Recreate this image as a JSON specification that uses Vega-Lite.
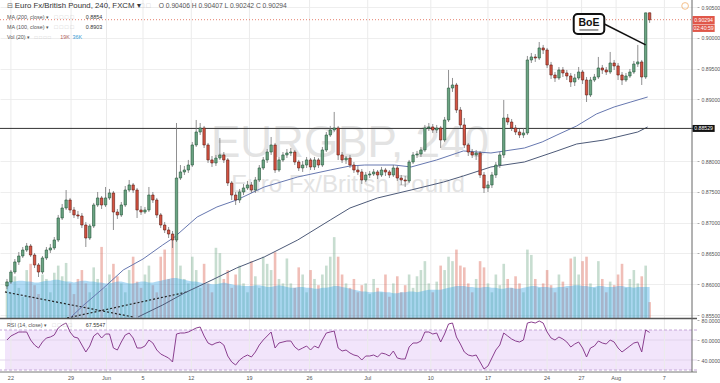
{
"$schema":"https://vega.github.io/schema/vega-lite/v6.json",
"width":697,"height":372,
"autosize":{"type":"none"},
"padding":{"left":0,"top":0,"right":23,"bottom":11},
"background":"#ffffff",
"config":{"view":{"stroke":null},"font":"Liberation Sans"},
"data":{"values":[{"one":1}]},
"datasets":{
"c":[
{"i":0,"o":0.85971,"h":0.86085,"l":0.85922,"c":0.86036,"v":42,"m":41,"r":60},
{"i":1,"o":0.86036,"h":0.86231,"l":0.86004,"c":0.86198,"v":30,"m":42,"r":64},
{"i":2,"o":0.86198,"h":0.86409,"l":0.86166,"c":0.86361,"v":48,"m":42,"r":66},
{"i":3,"o":0.86361,"h":0.86523,"l":0.86312,"c":0.86458,"v":35,"m":43,"r":68},
{"i":4,"o":0.86458,"h":0.86604,"l":0.86426,"c":0.86555,"v":25,"m":43,"r":68},
{"i":5,"o":0.86555,"h":0.86669,"l":0.86523,"c":0.8662,"v":55,"m":42,"r":68},
{"i":6,"o":0.8662,"h":0.86653,"l":0.86442,"c":0.86474,"v":62,"m":42,"r":60},
{"i":7,"o":0.86474,"h":0.86507,"l":0.86263,"c":0.86312,"v":38,"m":41,"r":55},
{"i":8,"o":0.86312,"h":0.86344,"l":0.86117,"c":0.86198,"v":28,"m":41,"r":52},
{"i":9,"o":0.86198,"h":0.86458,"l":0.86166,"c":0.86426,"v":50,"m":42,"r":58},
{"i":10,"o":0.86426,"h":0.86604,"l":0.86393,"c":0.86555,"v":45,"m":43,"r":62},
{"i":11,"o":0.86555,"h":0.86653,"l":0.86507,"c":0.86588,"v":30,"m":43,"r":63},
{"i":12,"o":0.86588,"h":0.86766,"l":0.86555,"c":0.86718,"v":52,"m":44,"r":65},
{"i":13,"o":0.86718,"h":0.87124,"l":0.86685,"c":0.87075,"v":60,"m":44,"r":72},
{"i":14,"o":0.87075,"h":0.87302,"l":0.87042,"c":0.87237,"v":48,"m":43,"r":75},
{"i":15,"o":0.87237,"h":0.87529,"l":0.87205,"c":0.87367,"v":63,"m":42,"r":77},
{"i":16,"o":0.87367,"h":0.874,"l":0.87156,"c":0.87205,"v":40,"m":42,"r":68},
{"i":17,"o":0.87205,"h":0.87254,"l":0.87075,"c":0.87124,"v":28,"m":41,"r":63},
{"i":18,"o":0.87124,"h":0.87189,"l":0.87059,"c":0.87107,"v":45,"m":42,"r":62},
{"i":19,"o":0.87107,"h":0.87156,"l":0.86912,"c":0.86961,"v":55,"m":43,"r":55},
{"i":20,"o":0.86961,"h":0.8701,"l":0.86604,"c":0.8675,"v":40,"m":43,"r":48},
{"i":21,"o":0.8675,"h":0.86977,"l":0.86718,"c":0.86945,"v":30,"m":42,"r":54},
{"i":22,"o":0.86945,"h":0.87319,"l":0.86912,"c":0.87286,"v":58,"m":42,"r":64},
{"i":23,"o":0.87286,"h":0.87497,"l":0.87254,"c":0.874,"v":45,"m":41,"r":67},
{"i":24,"o":0.874,"h":0.87432,"l":0.87221,"c":0.87286,"v":81,"m":41,"r":62},
{"i":25,"o":0.87286,"h":0.87578,"l":0.87254,"c":0.874,"v":35,"m":40,"r":66},
{"i":26,"o":0.874,"h":0.87546,"l":0.87367,"c":0.87481,"v":50,"m":40,"r":66},
{"i":27,"o":0.87481,"h":0.87513,"l":0.8688,"c":0.87172,"v":62,"m":41,"r":52},
{"i":28,"o":0.87172,"h":0.87221,"l":0.87059,"c":0.87124,"v":48,"m":42,"r":50},
{"i":29,"o":0.87124,"h":0.87335,"l":0.87091,"c":0.87286,"v":40,"m":42,"r":58},
{"i":30,"o":0.87286,"h":0.87594,"l":0.87254,"c":0.87529,"v":30,"m":41,"r":65},
{"i":31,"o":0.87529,"h":0.87692,"l":0.87497,"c":0.87611,"v":55,"m":40,"r":67},
{"i":32,"o":0.87611,"h":0.87643,"l":0.87481,"c":0.87529,"v":70,"m":40,"r":62},
{"i":33,"o":0.87529,"h":0.87562,"l":0.87075,"c":0.87205,"v":42,"m":41,"r":52},
{"i":34,"o":0.87205,"h":0.8727,"l":0.87124,"c":0.87172,"v":35,"m":42,"r":52},
{"i":35,"o":0.87172,"h":0.87254,"l":0.8714,"c":0.87205,"v":50,"m":42,"r":54},
{"i":36,"o":0.87205,"h":0.87578,"l":0.87172,"c":0.87448,"v":60,"m":41,"r":60},
{"i":37,"o":0.87448,"h":0.87497,"l":0.87319,"c":0.87367,"v":38,"m":41,"r":57},
{"i":38,"o":0.87367,"h":0.874,"l":0.87075,"c":0.87124,"v":30,"m":42,"r":50},
{"i":39,"o":0.87124,"h":0.87156,"l":0.86912,"c":0.86961,"v":70,"m":43,"r":46},
{"i":40,"o":0.86961,"h":0.8701,"l":0.86831,"c":0.8688,"v":78,"m":44,"r":44},
{"i":41,"o":0.8688,"h":0.86929,"l":0.8675,"c":0.86815,"v":45,"m":45,"r":42},
{"i":42,"o":0.86815,"h":0.86864,"l":0.86588,"c":0.86718,"v":89,"m":46,"r":38},
{"i":43,"o":0.86718,"h":0.88617,"l":0.86685,"c":0.87724,"v":92,"m":46,"r":66},
{"i":44,"o":0.87724,"h":0.87935,"l":0.87692,"c":0.87822,"v":60,"m":45,"r":67},
{"i":45,"o":0.87822,"h":0.87919,"l":0.87773,"c":0.87854,"v":45,"m":44,"r":67},
{"i":46,"o":0.87854,"h":0.88017,"l":0.87806,"c":0.87935,"v":40,"m":43,"r":68},
{"i":47,"o":0.87935,"h":0.88309,"l":0.87903,"c":0.8826,"v":70,"m":42,"r":70},
{"i":48,"o":0.8826,"h":0.88666,"l":0.88228,"c":0.88471,"v":55,"m":42,"r":72},
{"i":49,"o":0.88471,"h":0.88617,"l":0.88422,"c":0.88536,"v":35,"m":41,"r":73},
{"i":50,"o":0.88536,"h":0.88569,"l":0.88211,"c":0.8826,"v":62,"m":40,"r":64},
{"i":51,"o":0.8826,"h":0.88293,"l":0.87968,"c":0.88017,"v":40,"m":40,"r":57},
{"i":52,"o":0.88017,"h":0.88081,"l":0.87903,"c":0.87968,"v":30,"m":39,"r":55},
{"i":53,"o":0.87968,"h":0.88098,"l":0.87919,"c":0.88049,"v":80,"m":39,"r":57},
{"i":54,"o":0.88049,"h":0.88374,"l":0.88017,"c":0.88098,"v":74,"m":40,"r":58},
{"i":55,"o":0.88098,"h":0.88146,"l":0.87968,"c":0.88017,"v":45,"m":41,"r":55},
{"i":56,"o":0.88017,"h":0.88049,"l":0.87594,"c":0.87643,"v":55,"m":40,"r":44},
{"i":57,"o":0.87643,"h":0.87676,"l":0.87367,"c":0.87448,"v":35,"m":39,"r":38},
{"i":58,"o":0.87448,"h":0.87497,"l":0.87286,"c":0.87367,"v":50,"m":38,"r":35},
{"i":59,"o":0.87367,"h":0.87546,"l":0.87319,"c":0.87497,"v":60,"m":38,"r":40},
{"i":60,"o":0.87497,"h":0.87627,"l":0.87448,"c":0.87562,"v":40,"m":37,"r":43},
{"i":61,"o":0.87562,"h":0.87676,"l":0.87529,"c":0.87611,"v":30,"m":37,"r":45},
{"i":62,"o":0.87611,"h":0.87659,"l":0.87481,"c":0.87529,"v":65,"m":37,"r":43},
{"i":63,"o":0.87529,"h":0.87741,"l":0.87481,"c":0.87692,"v":48,"m":38,"r":48},
{"i":64,"o":0.87692,"h":0.87935,"l":0.87659,"c":0.87887,"v":35,"m":38,"r":55},
{"i":65,"o":0.87887,"h":0.88065,"l":0.87854,"c":0.88017,"v":70,"m":37,"r":60},
{"i":66,"o":0.88017,"h":0.88195,"l":0.87968,"c":0.88146,"v":62,"m":36,"r":64},
{"i":67,"o":0.88146,"h":0.8839,"l":0.88098,"c":0.8826,"v":55,"m":36,"r":68},
{"i":68,"o":0.8826,"h":0.88293,"l":0.87806,"c":0.87854,"v":75,"m":37,"r":52},
{"i":69,"o":0.87854,"h":0.88065,"l":0.87822,"c":0.88017,"v":45,"m":38,"r":57},
{"i":70,"o":0.88017,"h":0.88146,"l":0.87984,"c":0.88098,"v":40,"m":37,"r":58},
{"i":71,"o":0.88098,"h":0.88195,"l":0.88049,"c":0.8813,"v":68,"m":36,"r":59},
{"i":72,"o":0.8813,"h":0.88211,"l":0.88081,"c":0.88146,"v":40,"m":35,"r":59},
{"i":73,"o":0.88146,"h":0.88179,"l":0.87935,"c":0.87984,"v":35,"m":35,"r":53},
{"i":74,"o":0.87984,"h":0.88017,"l":0.87838,"c":0.87887,"v":58,"m":36,"r":50},
{"i":75,"o":0.87887,"h":0.88,"l":0.87822,"c":0.87935,"v":50,"m":36,"r":52},
{"i":76,"o":0.87935,"h":0.88065,"l":0.87887,"c":0.88017,"v":30,"m":35,"r":54},
{"i":77,"o":0.88017,"h":0.88049,"l":0.87854,"c":0.87903,"v":55,"m":35,"r":50},
{"i":78,"o":0.87903,"h":0.88065,"l":0.87854,"c":0.88017,"v":45,"m":34,"r":54},
{"i":79,"o":0.88017,"h":0.88049,"l":0.87887,"c":0.87935,"v":38,"m":34,"r":52},
{"i":80,"o":0.87935,"h":0.88228,"l":0.87903,"c":0.88179,"v":50,"m":35,"r":60},
{"i":81,"o":0.88179,"h":0.88471,"l":0.88146,"c":0.88422,"v":60,"m":35,"r":67},
{"i":82,"o":0.88422,"h":0.88569,"l":0.8839,"c":0.88504,"v":70,"m":36,"r":68},
{"i":83,"o":0.88504,"h":0.88796,"l":0.88471,"c":0.88536,"v":92,"m":37,"r":69},
{"i":84,"o":0.88536,"h":0.88569,"l":0.88017,"c":0.88098,"v":70,"m":37,"r":52},
{"i":85,"o":0.88098,"h":0.88146,"l":0.87968,"c":0.88017,"v":50,"m":36,"r":49},
{"i":86,"o":0.88017,"h":0.88081,"l":0.87952,"c":0.88049,"v":40,"m":35,"r":50},
{"i":87,"o":0.88049,"h":0.88098,"l":0.87887,"c":0.87935,"v":35,"m":34,"r":47},
{"i":88,"o":0.87935,"h":0.87984,"l":0.87806,"c":0.87854,"v":45,"m":33,"r":45},
{"i":89,"o":0.87854,"h":0.87919,"l":0.87773,"c":0.87822,"v":30,"m":32,"r":44},
{"i":90,"o":0.87822,"h":0.8787,"l":0.87627,"c":0.87692,"v":38,"m":31,"r":40},
{"i":91,"o":0.87692,"h":0.87822,"l":0.87659,"c":0.87773,"v":40,"m":31,"r":44},
{"i":92,"o":0.87773,"h":0.87838,"l":0.87724,"c":0.87789,"v":28,"m":30,"r":44},
{"i":93,"o":0.87789,"h":0.8787,"l":0.87757,"c":0.87822,"v":45,"m":30,"r":45},
{"i":94,"o":0.87822,"h":0.87854,"l":0.87708,"c":0.87773,"v":35,"m":31,"r":43},
{"i":95,"o":0.87773,"h":0.87903,"l":0.87741,"c":0.87854,"v":30,"m":31,"r":47},
{"i":96,"o":0.87854,"h":0.87887,"l":0.87757,"c":0.87822,"v":50,"m":30,"r":46},
{"i":97,"o":0.87822,"h":0.87854,"l":0.87724,"c":0.87773,"v":25,"m":30,"r":44},
{"i":98,"o":0.87773,"h":0.87935,"l":0.87741,"c":0.87887,"v":40,"m":29,"r":49},
{"i":99,"o":0.87887,"h":0.87919,"l":0.87676,"c":0.87724,"v":48,"m":29,"r":42},
{"i":100,"o":0.87724,"h":0.87773,"l":0.87611,"c":0.87692,"v":30,"m":30,"r":41},
{"i":101,"o":0.87692,"h":0.87757,"l":0.87578,"c":0.87676,"v":38,"m":30,"r":41},
{"i":102,"o":0.87676,"h":0.88017,"l":0.87643,"c":0.87984,"v":50,"m":31,"r":53},
{"i":103,"o":0.87984,"h":0.88146,"l":0.87952,"c":0.88098,"v":35,"m":31,"r":57},
{"i":104,"o":0.88098,"h":0.88163,"l":0.88049,"c":0.88114,"v":48,"m":30,"r":57},
{"i":105,"o":0.88114,"h":0.88228,"l":0.88065,"c":0.88179,"v":55,"m":31,"r":59},
{"i":106,"o":0.88179,"h":0.88585,"l":0.88146,"c":0.88536,"v":65,"m":32,"r":68},
{"i":107,"o":0.88536,"h":0.88617,"l":0.88487,"c":0.88552,"v":40,"m":33,"r":68},
{"i":108,"o":0.88552,"h":0.88601,"l":0.88455,"c":0.88504,"v":30,"m":33,"r":66},
{"i":109,"o":0.88504,"h":0.88585,"l":0.88455,"c":0.88536,"v":42,"m":33,"r":67},
{"i":110,"o":0.88536,"h":0.88569,"l":0.88211,"c":0.88341,"v":60,"m":33,"r":58},
{"i":111,"o":0.88341,"h":0.88715,"l":0.88309,"c":0.88666,"v":55,"m":34,"r":66},
{"i":112,"o":0.88666,"h":0.89478,"l":0.88633,"c":0.89185,"v":70,"m":35,"r":76},
{"i":113,"o":0.89185,"h":0.89348,"l":0.89121,"c":0.89234,"v":65,"m":36,"r":77},
{"i":114,"o":0.89234,"h":0.89267,"l":0.8878,"c":0.88828,"v":78,"m":37,"r":63},
{"i":115,"o":0.88828,"h":0.88877,"l":0.88536,"c":0.88585,"v":60,"m":37,"r":56},
{"i":116,"o":0.88585,"h":0.88698,"l":0.88211,"c":0.8826,"v":58,"m":37,"r":48},
{"i":117,"o":0.8826,"h":0.88293,"l":0.88081,"c":0.88146,"v":40,"m":36,"r":45},
{"i":118,"o":0.88146,"h":0.88195,"l":0.88049,"c":0.88098,"v":30,"m":36,"r":44},
{"i":119,"o":0.88098,"h":0.88179,"l":0.88017,"c":0.8813,"v":45,"m":35,"r":45},
{"i":120,"o":0.8813,"h":0.88163,"l":0.87724,"c":0.87773,"v":65,"m":35,"r":38},
{"i":121,"o":0.87773,"h":0.87822,"l":0.87481,"c":0.87562,"v":58,"m":36,"r":31},
{"i":122,"o":0.87562,"h":0.87676,"l":0.87497,"c":0.87611,"v":40,"m":36,"r":34},
{"i":123,"o":0.87611,"h":0.87822,"l":0.87562,"c":0.87773,"v":30,"m":35,"r":42},
{"i":124,"o":0.87773,"h":0.87984,"l":0.87724,"c":0.87935,"v":50,"m":35,"r":50},
{"i":125,"o":0.87935,"h":0.88146,"l":0.87887,"c":0.88098,"v":38,"m":34,"r":55},
{"i":126,"o":0.88098,"h":0.88991,"l":0.88049,"c":0.88698,"v":62,"m":34,"r":67},
{"i":127,"o":0.88698,"h":0.88763,"l":0.88585,"c":0.88633,"v":45,"m":35,"r":64},
{"i":128,"o":0.88633,"h":0.88682,"l":0.88487,"c":0.88536,"v":35,"m":35,"r":61},
{"i":129,"o":0.88536,"h":0.88585,"l":0.88422,"c":0.88471,"v":48,"m":34,"r":59},
{"i":130,"o":0.88471,"h":0.8852,"l":0.88374,"c":0.88422,"v":40,"m":34,"r":58},
{"i":131,"o":0.88422,"h":0.88536,"l":0.88374,"c":0.88455,"v":30,"m":35,"r":60},
{"i":132,"o":0.88455,"h":0.89705,"l":0.88422,"c":0.8964,"v":78,"m":36,"r":77},
{"i":133,"o":0.8964,"h":0.89754,"l":0.89591,"c":0.89689,"v":72,"m":37,"r":78},
{"i":134,"o":0.89689,"h":0.89737,"l":0.89608,"c":0.89672,"v":45,"m":37,"r":77},
{"i":135,"o":0.89672,"h":0.89932,"l":0.8964,"c":0.89835,"v":35,"m":36,"r":79},
{"i":136,"o":0.89835,"h":0.89884,"l":0.89737,"c":0.89802,"v":40,"m":36,"r":77},
{"i":137,"o":0.89802,"h":0.89835,"l":0.8951,"c":0.89559,"v":55,"m":36,"r":68},
{"i":138,"o":0.89559,"h":0.89608,"l":0.89332,"c":0.89396,"v":38,"m":35,"r":62},
{"i":139,"o":0.89396,"h":0.89445,"l":0.89283,"c":0.89348,"v":30,"m":35,"r":60},
{"i":140,"o":0.89348,"h":0.89526,"l":0.89315,"c":0.89478,"v":50,"m":36,"r":63},
{"i":141,"o":0.89478,"h":0.89526,"l":0.89364,"c":0.89429,"v":42,"m":36,"r":61},
{"i":142,"o":0.89429,"h":0.89478,"l":0.89315,"c":0.8938,"v":35,"m":37,"r":58},
{"i":143,"o":0.8938,"h":0.89429,"l":0.89202,"c":0.89283,"v":68,"m":37,"r":53},
{"i":144,"o":0.89283,"h":0.89413,"l":0.89218,"c":0.89348,"v":70,"m":38,"r":56},
{"i":145,"o":0.89348,"h":0.89526,"l":0.89315,"c":0.89445,"v":50,"m":38,"r":58},
{"i":146,"o":0.89445,"h":0.89478,"l":0.8925,"c":0.89315,"v":65,"m":37,"r":52},
{"i":147,"o":0.89315,"h":0.89364,"l":0.88958,"c":0.89072,"v":70,"m":37,"r":43},
{"i":148,"o":0.89072,"h":0.89364,"l":0.89039,"c":0.89315,"v":40,"m":36,"r":52},
{"i":149,"o":0.89315,"h":0.89413,"l":0.89283,"c":0.89364,"v":35,"m":36,"r":54},
{"i":150,"o":0.89364,"h":0.89689,"l":0.89332,"c":0.8951,"v":65,"m":37,"r":59},
{"i":151,"o":0.8951,"h":0.89559,"l":0.89413,"c":0.89478,"v":45,"m":37,"r":57},
{"i":152,"o":0.89478,"h":0.89526,"l":0.89396,"c":0.89445,"v":30,"m":36,"r":56},
{"i":153,"o":0.89445,"h":0.8977,"l":0.89413,"c":0.89591,"v":42,"m":36,"r":60},
{"i":154,"o":0.89591,"h":0.8964,"l":0.89478,"c":0.89543,"v":38,"m":36,"r":58},
{"i":155,"o":0.89543,"h":0.89591,"l":0.89315,"c":0.89396,"v":50,"m":37,"r":52},
{"i":156,"o":0.89396,"h":0.89445,"l":0.89234,"c":0.89315,"v":62,"m":37,"r":48},
{"i":157,"o":0.89315,"h":0.89429,"l":0.89283,"c":0.8938,"v":35,"m":36,"r":51},
{"i":158,"o":0.8938,"h":0.89494,"l":0.89348,"c":0.89445,"v":45,"m":36,"r":54},
{"i":159,"o":0.89445,"h":0.89624,"l":0.89413,"c":0.89575,"v":55,"m":35,"r":57},
{"i":160,"o":0.89575,"h":0.89884,"l":0.89526,"c":0.89608,"v":40,"m":36,"r":58},
{"i":161,"o":0.89608,"h":0.8964,"l":0.89234,"c":0.89364,"v":48,"m":36,"r":48},
{"i":162,"o":0.89364,"h":0.90407,"l":0.89332,"c":0.90405,"v":60,"m":36,"r":70},
{"i":163,"o":0.90406,"h":0.90407,"l":0.90242,"c":0.90294,"v":19,"m":36,"r":67.5547}
],
"ma100":[
{"i":16.25,"p":0.85468},{"i":19.5,"p":0.85663},{"i":24.5,"p":0.85939},{"i":29.5,"p":0.86231},{"i":34.5,"p":0.86409},{"i":39.5,"p":0.86637},{"i":42.5,"p":0.86766},{"i":48.25,"p":0.87091},{"i":53.25,"p":0.87254},{"i":58.25,"p":0.87367},{"i":65.25,"p":0.87578},{"i":73.75,"p":0.87741},{"i":82,"p":0.87854},{"i":87,"p":0.87919},{"i":90.75,"p":0.87935},{"i":98.25,"p":0.87935},{"i":102.5,"p":0.87903},{"i":109,"p":0.88017},{"i":115.75,"p":0.88163},{"i":122.75,"p":0.8813},{"i":131.25,"p":0.88211},{"i":135.75,"p":0.88309},{"i":139.5,"p":0.88422},{"i":144.5,"p":0.88569},{"i":149.5,"p":0.88763},{"i":154,"p":0.88877},{"i":158.25,"p":0.88958},{"i":162.5,"p":0.89039}
],
"ma200":[
{"i":33.25,"p":0.85468},{"i":39.5,"p":0.85663},{"i":45,"p":0.85857},{"i":52,"p":0.86068},{"i":58.25,"p":0.86263},{"i":65.25,"p":0.86442},{"i":73.75,"p":0.86718},{"i":82,"p":0.87042},{"i":87,"p":0.87237},{"i":94,"p":0.874},{"i":102.5,"p":0.87529},{"i":110.75,"p":0.87659},{"i":115.75,"p":0.87757},{"i":122.75,"p":0.87903},{"i":131.25,"p":0.87984},{"i":139.5,"p":0.88163},{"i":144.5,"p":0.88276},{"i":151.5,"p":0.88341},{"i":160,"p":0.88471},{"i":162.5,"p":0.88552}
],
"ticks":[
{"t":1,"lab":"22"},{"t":16.25,"lab":"29"},{"t":25.25,"lab":"Jun"},{"t":34.5,"lab":"5"},{"t":46.75,"lab":"12"},{"t":61.5,"lab":"19"},{"t":76.75,"lab":"26"},{"t":91.5,"lab":"Jul"},{"t":107.5,"lab":"10"},{"t":122,"lab":"17"},{"t":137,"lab":"24"},{"t":145.75,"lab":"27"},{"t":154.5,"lab":"Aug"},{"t":166.75,"lab":"7"}
],
"trend":[
{"x1":-0.5,"y1":0.85874,"x2":32,"y2":0.85468},
{"x1":15.25,"y1":0.85452,"x2":45.75,"y2":0.85874}
]
},
"layer":[
{"mark":{"type":"rect","color":"#f2e5fb"},"encoding":{"x":{"datum":-0.5,"type":"quantitative","scale":{"domain":[-0.5,173.75],"zero":false,"nice":false},"axis":null},"x2":{"datum":173.75},"y":{"datum":70,"type":"quantitative","scale":{"domain":[40,80],"range":[360,320],"zero":false,"nice":false},"axis":null},"y2":{"datum":30}}},
{"mark":{"type":"rule","color":"#e2d5ec","strokeWidth":1},"encoding":{"y":{"datum":60,"type":"quantitative","scale":{"domain":[40,80],"range":[360,320],"zero":false,"nice":false},"axis":null}}},
{"mark":{"type":"rule","color":"#e2d5ec","strokeWidth":1},"encoding":{"y":{"datum":40,"type":"quantitative","scale":{"domain":[40,80],"range":[360,320],"zero":false,"nice":false},"axis":null}}},
{"data":{"name":"ticks"},"mark":{"type":"rule","color":"#ebebeb","strokeWidth":1},"encoding":{"x":{"field":"t","type":"quantitative","scale":{"domain":[-0.5,173.75],"zero":false,"nice":false},"axis":null}}},
{"mark":{"type":"text","text":"EURGBP, 240","fontSize":44,"font":"Liberation Sans","color":"#e3e3e3","align":"center","baseline":"alphabetic"},"encoding":{"x":{"datum":87,"type":"quantitative","scale":{"domain":[-0.5,173.75],"zero":false,"nice":false},"axis":null},"y":{"datum":0.88065,"type":"quantitative","scale":{"domain":[0.855,0.905],"range":[315,7],"zero":false,"nice":false},"axis":null}}},
{"mark":{"type":"text","text":"Euro Fx/British Pound","fontSize":24,"font":"Liberation Sans","color":"#e3e3e3","align":"center","baseline":"alphabetic"},"encoding":{"x":{"datum":86.5,"type":"quantitative","scale":{"domain":[-0.5,173.75],"zero":false,"nice":false},"axis":null},"y":{"datum":0.87497,"type":"quantitative","scale":{"domain":[0.855,0.905],"range":[315,7],"zero":false,"nice":false},"axis":null}}},
{"data":{"name":"c"},"mark":{"type":"bar","width":2.6,"opacity":0.38},"encoding":{"x":{"field":"i","type":"quantitative","scale":{"domain":[-0.5,173.75],"zero":false,"nice":false},"axis":null},"y":{"field":"v","type":"quantitative","scale":{"domain":[0,100],"range":[319,230],"zero":false,"nice":false},"axis":null},"y2":{"datum":0},"color":{"condition":{"test":"datum.c >= datum.o","value":"#6ba583"},"value":"#d75442"}}},
{"data":{"name":"c"},"mark":{"type":"area","color":"#40a8e4","opacity":0.42},"encoding":{"x":{"field":"i","type":"quantitative","scale":{"domain":[-0.5,173.75],"zero":false,"nice":false},"axis":null},"y":{"field":"m","type":"quantitative","scale":{"domain":[0,100],"range":[319,230],"zero":false,"nice":false},"axis":null},"y2":{"datum":0}}},
{"data":{"name":"trend"},"mark":{"type":"rule","color":"#222222","strokeDash":[2,2],"strokeWidth":1.2},"encoding":{"x":{"field":"x1","type":"quantitative","scale":{"domain":[-0.5,173.75],"zero":false,"nice":false},"axis":null},"x2":{"field":"x2"},"y":{"field":"y1","type":"quantitative","scale":{"domain":[0.855,0.905],"range":[315,7],"zero":false,"nice":false},"axis":null},"y2":{"field":"y2"}}},
{"data":{"name":"ma200"},"mark":{"type":"line","color":"#4d5a78","strokeWidth":1},"encoding":{"x":{"field":"i","type":"quantitative","scale":{"domain":[-0.5,173.75],"zero":false,"nice":false},"axis":null},"y":{"field":"p","type":"quantitative","scale":{"domain":[0.855,0.905],"range":[315,7],"zero":false,"nice":false},"axis":null}}},
{"data":{"name":"ma100"},"mark":{"type":"line","color":"#6778b0","strokeWidth":1},"encoding":{"x":{"field":"i","type":"quantitative","scale":{"domain":[-0.5,173.75],"zero":false,"nice":false},"axis":null},"y":{"field":"p","type":"quantitative","scale":{"domain":[0.855,0.905],"range":[315,7],"zero":false,"nice":false},"axis":null}}},
{"mark":{"type":"rule","color":"#333333","strokeWidth":1},"encoding":{"y":{"datum":0.88529,"type":"quantitative","scale":{"domain":[0.855,0.905],"range":[315,7],"zero":false,"nice":false},"axis":{"orient":"right","values":[0.855,0.86,0.865,0.87,0.875,0.88,0.89,0.895,0.9,0.905],"format":".5f","labelFontSize":5.2,"labelColor":"#555555","labelFont":"Liberation Sans","tickSize":2,"tickColor":"#aaaaaa","domain":false,"grid":true,"gridColor":"#eeeeee","title":null,"labelPadding":2,"labelOverlap":false,"labelBound":false,"labelFlush":false}}}},
{"mark":{"type":"rule","color":"#e5826f","strokeDash":[1,2],"strokeWidth":1},"encoding":{"y":{"datum":0.90294,"type":"quantitative","scale":{"domain":[0.855,0.905],"range":[315,7],"zero":false,"nice":false},"axis":null}}},
{"data":{"name":"c"},"mark":{"type":"rule","color":"#737375","strokeWidth":0.8},"encoding":{"x":{"field":"i","type":"quantitative","scale":{"domain":[-0.5,173.75],"zero":false,"nice":false},"axis":null},"y":{"field":"l","type":"quantitative","scale":{"domain":[0.855,0.905],"range":[315,7],"zero":false,"nice":false},"axis":null},"y2":{"field":"h"}}},
{"data":{"name":"c"},"mark":{"type":"bar","width":2.4,"strokeWidth":0.6},"encoding":{"x":{"field":"i","type":"quantitative","scale":{"domain":[-0.5,173.75],"zero":false,"nice":false},"axis":null},"y":{"field":"o","type":"quantitative","scale":{"domain":[0.855,0.905],"range":[315,7],"zero":false,"nice":false},"axis":null},"y2":{"field":"c"},"fill":{"condition":{"test":"datum.c >= datum.o","value":"#6ba583"},"value":"#d75442"},"stroke":{"condition":{"test":"datum.c >= datum.o","value":"#225437"},"value":"#5b1a13"}}},
{"mark":{"type":"rule","color":"#c4a6d8","strokeDash":[3,2],"strokeWidth":1},"encoding":{"y":{"datum":70,"type":"quantitative","scale":{"domain":[40,80],"range":[360,320],"zero":false,"nice":false},"axis":null}}},
{"mark":{"type":"rule","color":"#c4a6d8","strokeDash":[3,2],"strokeWidth":1},"encoding":{"y":{"datum":30,"type":"quantitative","scale":{"domain":[40,80],"range":[360,320],"zero":false,"nice":false},"axis":null}}},
{"data":{"name":"c"},"mark":{"type":"line","color":"#8a3f8f","strokeWidth":1},"encoding":{"x":{"field":"i","type":"quantitative","scale":{"domain":[-0.5,173.75],"zero":false,"nice":false},"axis":null},"y":{"field":"r","type":"quantitative","scale":{"domain":[40,80],"range":[360,320],"zero":false,"nice":false},"axis":{"orient":"right","values":[40,60,80],"format":".4f","labelFontSize":5.2,"labelColor":"#555555","labelFont":"Liberation Sans","tickSize":2,"tickColor":"#aaaaaa","domain":false,"grid":false,"title":null,"labelPadding":2,"labelOverlap":false,"labelBound":false,"labelFlush":false}}}},
{"mark":{"type":"rule","color":"#555555","strokeWidth":1.5},"encoding":{"y":{"datum":81.5,"type":"quantitative","scale":{"domain":[40,80],"range":[360,320],"zero":false,"nice":false},"axis":null}}},
{"mark":{"type":"rule","color":"#777777","strokeWidth":1},"encoding":{"y":{"datum":28,"type":"quantitative","scale":{"domain":[40,80],"range":[360,320],"zero":false,"nice":false},"axis":null}}},
{"mark":{"type":"rule","color":"#666666","strokeWidth":1},"encoding":{"x":{"datum":173.75,"type":"quantitative","scale":{"domain":[-0.5,173.75],"zero":false,"nice":false},"axis":null}}},
{"data":{"name":"ticks"},"mark":{"type":"text","fontSize":5.5,"color":"#555555","align":"center","baseline":"middle"},"encoding":{"x":{"field":"t","type":"quantitative","scale":{"domain":[-0.5,173.75],"zero":false,"nice":false},"axis":null},"y":{"datum":22,"type":"quantitative","scale":{"domain":[40,80],"range":[360,320],"zero":false,"nice":false},"axis":null},"text":{"field":"lab"}}},
{"mark":{"type":"rule","color":"#111111","strokeWidth":1.5},"encoding":{"x":{"datum":151.5,"type":"quantitative","scale":{"domain":[-0.5,173.75],"zero":false,"nice":false},"axis":null},"x2":{"datum":162},"y":{"datum":0.90224,"type":"quantitative","scale":{"domain":[0.855,0.905],"range":[315,7],"zero":false,"nice":false},"axis":null},"y2":{"datum":0.89884}}},
{"mark":{"type":"rect","fill":"#ffffff","stroke":"#111111","strokeWidth":2,"cornerRadius":4},"encoding":{"x":{"datum":143.75,"type":"quantitative","scale":{"domain":[-0.5,173.75],"zero":false,"nice":false},"axis":null},"x2":{"datum":151.5},"y":{"datum":0.90387,"type":"quantitative","scale":{"domain":[0.855,0.905],"range":[315,7],"zero":false,"nice":false},"axis":null},"y2":{"datum":0.90062}}},
{"mark":{"type":"text","text":"BoE","fontSize":10.5,"fontWeight":"bold","color":"#111111","align":"center","baseline":"middle"},"encoding":{"x":{"datum":147.6,"type":"quantitative","scale":{"domain":[-0.5,173.75],"zero":false,"nice":false},"axis":null},"y":{"datum":0.90235,"type":"quantitative","scale":{"domain":[0.855,0.905],"range":[315,7],"zero":false,"nice":false},"axis":null}}},
{"mark":{"type":"rule","color":"#111111","strokeWidth":0.8},"encoding":{"x":{"datum":145.2,"type":"quantitative","scale":{"domain":[-0.5,173.75],"zero":false,"nice":false},"axis":null},"x2":{"datum":150},"y":{"datum":0.90127,"type":"quantitative","scale":{"domain":[0.855,0.905],"range":[315,7],"zero":false,"nice":false},"axis":null}}},
{"mark":{"type":"point","shape":"circle","size":45,"filled":false,"stroke":"#f2a65a","strokeWidth":1},"encoding":{"x":{"datum":172,"type":"quantitative","scale":{"domain":[-0.5,173.75],"zero":false,"nice":false},"axis":null},"y":{"datum":0.90517,"type":"quantitative","scale":{"domain":[0.855,0.905],"range":[315,7],"zero":false,"nice":false},"axis":null}}},
{"mark":{"type":"text","text":"⊟","fontSize":7,"color":"#666666","align":"left","baseline":"middle"},"encoding":{"x":{"datum":0,"type":"quantitative","scale":{"domain":[-0.5,173.75],"zero":false,"nice":false},"axis":null},"y":{"datum":0.90517,"type":"quantitative","scale":{"domain":[0.855,0.905],"range":[315,7],"zero":false,"nice":false},"axis":null}}},
{"mark":{"type":"text","text":"Euro Fx/British Pound, 240, FXCM ▾","fontSize":7.8,"color":"#333333","align":"left","baseline":"middle"},"encoding":{"x":{"datum":2,"type":"quantitative","scale":{"domain":[-0.5,173.75],"zero":false,"nice":false},"axis":null},"y":{"datum":0.90517,"type":"quantitative","scale":{"domain":[0.855,0.905],"range":[315,7],"zero":false,"nice":false},"axis":null}}},
{"mark":{"type":"text","text":"□ □","fontSize":7,"color":"#c9c9c9","align":"left","baseline":"middle"},"encoding":{"x":{"datum":33.75,"type":"quantitative","scale":{"domain":[-0.5,173.75],"zero":false,"nice":false},"axis":null},"y":{"datum":0.90517,"type":"quantitative","scale":{"domain":[0.855,0.905],"range":[315,7],"zero":false,"nice":false},"axis":null}}},
{"mark":{"type":"text","text":"O 0.90406 H 0.90407 L 0.90242 C 0.90294","fontSize":6.7,"color":"#555555","align":"left","baseline":"middle"},"encoding":{"x":{"datum":38.5,"type":"quantitative","scale":{"domain":[-0.5,173.75],"zero":false,"nice":false},"axis":null},"y":{"datum":0.90517,"type":"quantitative","scale":{"domain":[0.855,0.905],"range":[315,7],"zero":false,"nice":false},"axis":null}}},
{"mark":{"type":"text","text":"MA (200, close) ▾","fontSize":5.4,"color":"#555555","align":"left","baseline":"middle"},"encoding":{"x":{"datum":0,"type":"quantitative","scale":{"domain":[-0.5,173.75],"zero":false,"nice":false},"axis":null},"y":{"datum":0.90338,"type":"quantitative","scale":{"domain":[0.855,0.905],"range":[315,7],"zero":false,"nice":false},"axis":null}}},
{"mark":{"type":"text","text":"□ □ □ □","fontSize":6,"color":"#cccccc","align":"left","baseline":"middle"},"encoding":{"x":{"datum":12,"type":"quantitative","scale":{"domain":[-0.5,173.75],"zero":false,"nice":false},"axis":null},"y":{"datum":0.90338,"type":"quantitative","scale":{"domain":[0.855,0.905],"range":[315,7],"zero":false,"nice":false},"axis":null}}},
{"mark":{"type":"text","text":"0.8854","fontSize":5.4,"color":"#333333","align":"left","baseline":"middle"},"encoding":{"x":{"datum":20,"type":"quantitative","scale":{"domain":[-0.5,173.75],"zero":false,"nice":false},"axis":null},"y":{"datum":0.90338,"type":"quantitative","scale":{"domain":[0.855,0.905],"range":[315,7],"zero":false,"nice":false},"axis":null}}},
{"mark":{"type":"text","text":"MA (100, close) ▾","fontSize":5.4,"color":"#555555","align":"left","baseline":"middle"},"encoding":{"x":{"datum":0,"type":"quantitative","scale":{"domain":[-0.5,173.75],"zero":false,"nice":false},"axis":null},"y":{"datum":0.90176,"type":"quantitative","scale":{"domain":[0.855,0.905],"range":[315,7],"zero":false,"nice":false},"axis":null}}},
{"mark":{"type":"text","text":"□ □ □ □","fontSize":6,"color":"#cccccc","align":"left","baseline":"middle"},"encoding":{"x":{"datum":12,"type":"quantitative","scale":{"domain":[-0.5,173.75],"zero":false,"nice":false},"axis":null},"y":{"datum":0.90176,"type":"quantitative","scale":{"domain":[0.855,0.905],"range":[315,7],"zero":false,"nice":false},"axis":null}}},
{"mark":{"type":"text","text":"0.8903","fontSize":5.4,"color":"#333333","align":"left","baseline":"middle"},"encoding":{"x":{"datum":20,"type":"quantitative","scale":{"domain":[-0.5,173.75],"zero":false,"nice":false},"axis":null},"y":{"datum":0.90176,"type":"quantitative","scale":{"domain":[0.855,0.905],"range":[315,7],"zero":false,"nice":false},"axis":null}}},
{"mark":{"type":"text","text":"Vol (20) ▾","fontSize":5.4,"color":"#555555","align":"left","baseline":"middle"},"encoding":{"x":{"datum":0,"type":"quantitative","scale":{"domain":[-0.5,173.75],"zero":false,"nice":false},"axis":null},"y":{"datum":0.90013,"type":"quantitative","scale":{"domain":[0.855,0.905],"range":[315,7],"zero":false,"nice":false},"axis":null}}},
{"mark":{"type":"text","text":"□ □ □ □","fontSize":5,"color":"#cccccc","align":"left","baseline":"middle"},"encoding":{"x":{"datum":7,"type":"quantitative","scale":{"domain":[-0.5,173.75],"zero":false,"nice":false},"axis":null},"y":{"datum":0.90013,"type":"quantitative","scale":{"domain":[0.855,0.905],"range":[315,7],"zero":false,"nice":false},"axis":null}}},
{"mark":{"type":"text","text":"19K","fontSize":5.4,"color":"#b06464","align":"left","baseline":"middle"},"encoding":{"x":{"datum":13.5,"type":"quantitative","scale":{"domain":[-0.5,173.75],"zero":false,"nice":false},"axis":null},"y":{"datum":0.90013,"type":"quantitative","scale":{"domain":[0.855,0.905],"range":[315,7],"zero":false,"nice":false},"axis":null}}},
{"mark":{"type":"text","text":"36K","fontSize":5.4,"color":"#3a9bd5","align":"left","baseline":"middle"},"encoding":{"x":{"datum":16.6,"type":"quantitative","scale":{"domain":[-0.5,173.75],"zero":false,"nice":false},"axis":null},"y":{"datum":0.90013,"type":"quantitative","scale":{"domain":[0.855,0.905],"range":[315,7],"zero":false,"nice":false},"axis":null}}},
{"mark":{"type":"text","text":"RSI (14, close) ▾","fontSize":5.4,"color":"#555555","align":"left","baseline":"middle"},"encoding":{"x":{"datum":0,"type":"quantitative","scale":{"domain":[-0.5,173.75],"zero":false,"nice":false},"axis":null},"y":{"datum":75,"type":"quantitative","scale":{"domain":[40,80],"range":[360,320],"zero":false,"nice":false},"axis":null}}},
{"mark":{"type":"text","text":"□ □ □ □","fontSize":6,"color":"#cccccc","align":"left","baseline":"middle"},"encoding":{"x":{"datum":11.5,"type":"quantitative","scale":{"domain":[-0.5,173.75],"zero":false,"nice":false},"axis":null},"y":{"datum":75,"type":"quantitative","scale":{"domain":[40,80],"range":[360,320],"zero":false,"nice":false},"axis":null}}},
{"mark":{"type":"text","text":"67.5547","fontSize":5.4,"color":"#333333","align":"left","baseline":"middle"},"encoding":{"x":{"datum":20,"type":"quantitative","scale":{"domain":[-0.5,173.75],"zero":false,"nice":false},"axis":null},"y":{"datum":75,"type":"quantitative","scale":{"domain":[40,80],"range":[360,320],"zero":false,"nice":false},"axis":null}}},
{"mark":{"type":"rect","fill":"#e0574a"},"encoding":{"x":{"datum":173.9,"type":"quantitative","scale":{"domain":[-0.5,173.75],"zero":false,"nice":false},"axis":null},"x2":{"datum":179.5},"y":{"datum":0.90354,"type":"quantitative","scale":{"domain":[0.855,0.905],"range":[315,7],"zero":false,"nice":false},"axis":null},"y2":{"datum":0.90224}}},
{"mark":{"type":"rect","fill":"#e0574a"},"encoding":{"x":{"datum":173.9,"type":"quantitative","scale":{"domain":[-0.5,173.75],"zero":false,"nice":false},"axis":null},"x2":{"datum":179.5},"y":{"datum":0.90216,"type":"quantitative","scale":{"domain":[0.855,0.905],"range":[315,7],"zero":false,"nice":false},"axis":null},"y2":{"datum":0.90095}}},
{"mark":{"type":"rect","fill":"#111111"},"encoding":{"x":{"datum":173.9,"type":"quantitative","scale":{"domain":[-0.5,173.75],"zero":false,"nice":false},"axis":null},"x2":{"datum":179.5},"y":{"datum":0.88585,"type":"quantitative","scale":{"domain":[0.855,0.905],"range":[315,7],"zero":false,"nice":false},"axis":null},"y2":{"datum":0.88472}}},
{"mark":{"type":"text","text":"0.90294","fontSize":5.2,"color":"#ffffff","align":"center","baseline":"middle"},"encoding":{"x":{"datum":176.7,"type":"quantitative","scale":{"domain":[-0.5,173.75],"zero":false,"nice":false},"axis":null},"y":{"datum":0.90289,"type":"quantitative","scale":{"domain":[0.855,0.905],"range":[315,7],"zero":false,"nice":false},"axis":null}}},
{"mark":{"type":"text","text":"02:40:59","fontSize":5.2,"color":"#ffffff","align":"center","baseline":"middle"},"encoding":{"x":{"datum":176.7,"type":"quantitative","scale":{"domain":[-0.5,173.75],"zero":false,"nice":false},"axis":null},"y":{"datum":0.90155,"type":"quantitative","scale":{"domain":[0.855,0.905],"range":[315,7],"zero":false,"nice":false},"axis":null}}},
{"mark":{"type":"text","text":"0.88529","fontSize":5.2,"color":"#ffffff","align":"center","baseline":"middle"},"encoding":{"x":{"datum":176.7,"type":"quantitative","scale":{"domain":[-0.5,173.75],"zero":false,"nice":false},"axis":null},"y":{"datum":0.88529,"type":"quantitative","scale":{"domain":[0.855,0.905],"range":[315,7],"zero":false,"nice":false},"axis":null}}}
],
"resolve":{"scale":{"y":"independent"},"axis":{"y":"independent"}}
}
